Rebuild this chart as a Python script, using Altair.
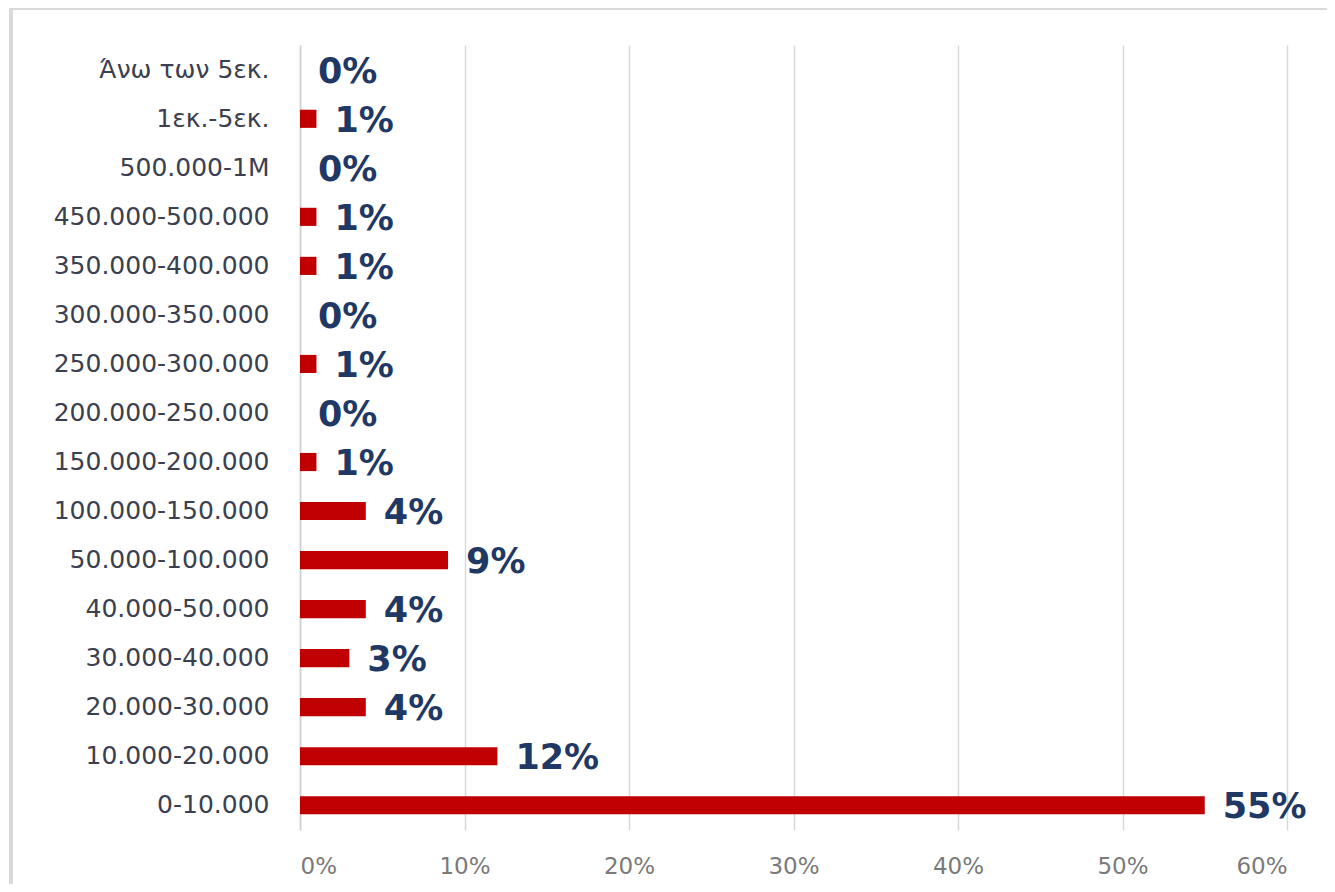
import altair as alt
import pandas as pd

categories = ["Άνω των 5εκ.", "1εκ.-5εκ.", "500.000-1M", "450.000-500.000",
              "350.000-400.000", "300.000-350.000", "250.000-300.000",
              "200.000-250.000", "150.000-200.000", "100.000-150.000",
              "50.000-100.000", "40.000-50.000", "30.000-40.000",
              "20.000-30.000", "10.000-20.000", "0-10.000"]
values = [0, 1, 0, 1, 1, 0, 1, 0, 1, 4, 9, 4, 3, 4, 12, 55]
labels = ["0%", "1%", "0%", "1%", "1%", "0%", "1%", "0%", "1%", "4%", "9%",
          "4%", "3%", "4%", "12%", "55%"]
x_ticks = [0, 0.1, 0.2, 0.3, 0.4, 0.5, 0.6]

df = pd.DataFrame({"cat": categories, "val": [v / 100 for v in values], "lab": labels})

W, H = 987, 785

x_enc = alt.X("val:Q", scale=alt.Scale(domain=[0, 0.6]),
              axis=alt.Axis(values=x_ticks, format=".0%", title=None, domain=False,
                            ticks=False, grid=True, gridColor="#d9d9d9", gridWidth=1.5,
                            labelFont="DejaVu Sans", labelFontSize=23, labelColor="#7a7a7a",
                            labelPadding=25))
y_enc = alt.Y("cat:N", sort=categories, scale=alt.Scale(paddingInner=0.63, paddingOuter=0.32),
              axis=alt.Axis(title=None, ticks=False, domain=True, domainColor="#d0d0d0",
                            domainWidth=1.5, labelFont="DejaVu Sans", labelFontSize=25,
                            labelColor="#3b4050", labelPadding=31, labelLimit=400))

bars = alt.Chart(df).mark_bar(color="#c00000").encode(x=x_enc, y=y_enc)
text = alt.Chart(df).mark_text(align="left", baseline="middle", dx=18, dy=2,
                               font="DejaVu Sans", fontSize=35, fontWeight="bold",
                               color="#1f3864").encode(
    x="val:Q", y=alt.Y("cat:N", sort=categories), text="lab:N")

top_line = alt.Chart(df).mark_rule(color="#d9d9d9", strokeWidth=3).encode(
    x=alt.value(-289), x2=alt.value(1040), y=alt.value(-37))
left_line = alt.Chart(df).mark_rule(color="#d9d9d9", strokeWidth=3).encode(
    x=alt.value(-289), y=alt.value(-37), y2=alt.value(900))

chart = alt.layer(bars, text, top_line, left_line).properties(
    width=W, height=H,
    autosize=alt.AutoSizeParams(type="none"),
    padding={"left": 292, "top": 37, "right": 40, "bottom": 54},
).configure_view(stroke=None)

chart.save("out.html", embed_options={"renderer": "svg", "actions": False})
